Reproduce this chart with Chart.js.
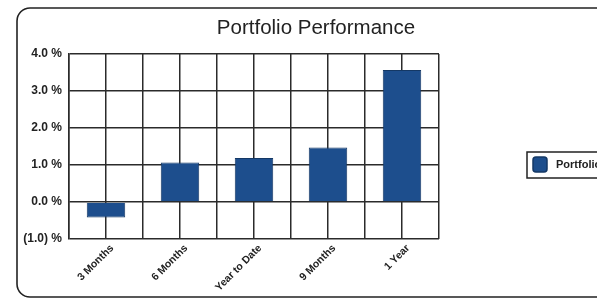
<!DOCTYPE html>
<html>
<head>
<meta charset="utf-8">
<script src="https://cdn.jsdelivr.net/npm/chart.js@4"></script>
<style>
  html, body { margin: 0; padding: 0; background: #fff; overflow: hidden; }
  #wrap { width: 597px; height: 301px; position: relative; }
</style>
</head>
<body>
<div id="wrap"><canvas id="perfChart" width="597" height="301"></canvas></div>
<script>
// Portfolio Performance – data
const categories = ["3 Months", "6 Months", "Year to Date", "9 Months", "1 Year"];
const seriesName = "Portfolio";
const returns = [-0.42, 1.07, 1.19, 1.47, 3.57];
const yTicks = [-1, 0, 1, 2, 3, 4];
const chartTitle = "Portfolio Performance";

const barFill = "#1d4e8d";
const barEdge = "#143865";
const lineCol = "#2b2b2b";
const fontFam = "'Liberation Sans', Arial, sans-serif";

function pctLabel(v) {
  return v < 0 ? "(" + Math.abs(v).toFixed(1) + ") %" : v.toFixed(1) + " %";
}

// frame, title and legend are drawn by hand
const decor = {
  id: "decor",
  beforeDraw(chart) {
    const c = chart.ctx;
    c.save();
    c.strokeStyle = "#222";
    c.lineWidth = 1.6;
    c.beginPath();
    const x0 = 17, y0 = 8, x1 = 640, y1 = 297, r = 13;
    c.moveTo(x1, y0);
    c.lineTo(x0 + r, y0);
    c.arcTo(x0, y0, x0, y0 + r, r);
    c.lineTo(x0, y1 - r);
    c.arcTo(x0, y1, x0 + r, y1, r);
    c.lineTo(x1, y1);
    c.stroke();
    c.restore();
  },
  afterDraw(chart) {
    const c = chart.ctx;
    c.save();
    c.fillStyle = "#222";
    c.font = "20.5px " + fontFam;
    c.textAlign = "center";
    c.textBaseline = "middle";
    c.fillText(chartTitle, 316, 28);

    // legend box
    c.strokeStyle = "#222";
    c.lineWidth = 1.5;
    c.strokeRect(527, 152, 90, 26);
    c.fillStyle = chart.data.datasets[0].backgroundColor;
    c.strokeStyle = barEdge;
    c.beginPath();
    c.roundRect(533, 157, 14, 15, 3);
    c.fill();
    c.stroke();
    c.fillStyle = "#222";
    c.font = "bold 11px " + fontFam;
    c.textAlign = "left";
    c.fillText(chart.data.datasets[0].label, 556, 165);
    c.restore();
  }
};

new Chart(document.getElementById("perfChart"), {
  type: "bar",
  data: {
    labels: categories,
    datasets: [{
      label: seriesName,
      data: returns,
      backgroundColor: barFill,
      borderColor: barEdge,
      borderWidth: 1,
      barPercentage: 0.52,
      categoryPercentage: 1.0
    }]
  },
  plugins: [decor],
  options: {
    responsive: false,
    animation: false,
    layout: { padding: { left: 0, top: 54, right: 158, bottom: 0 } },
    plugins: {
      legend: { display: false },
      title: { display: false },
      tooltip: { enabled: false }
    },
    scales: {
      x: {
        grid: { color: lineCol, lineWidth: 1.5, drawTicks: false, offset: false },
        border: { display: false },
        ticks: {
          autoSkip: false,
          minRotation: 45,
          maxRotation: 45,
          padding: 3,
          labelOffset: 6,
          color: "#222",
          font: { family: fontFam, size: 10.5, weight: "bold" }
        },
        afterFit: s => { s.height = 62; }
      },
      x2: {
        type: "category",
        labels: categories,
        position: "bottom",
        grid: { color: lineCol, lineWidth: 1.5, drawTicks: false, offset: true },
        border: { display: false },
        ticks: { display: false },
        afterFit: s => { s.height = 0; }
      },
      y: {
        min: -1,
        max: 4,
        afterBuildTicks: s => { s.ticks = yTicks.map(v => ({ value: v })); },
        grid: { color: lineCol, lineWidth: 1.5, drawTicks: false },
        border: { color: lineCol, width: 1.5 },
        ticks: {
          padding: 7,
          color: "#222",
          callback: v => pctLabel(v),
          font: { family: fontFam, size: 12, weight: "bold" }
        },
        afterFit: s => { s.width = 69; }
      }
    }
  }
});
</script>
</body>
</html>
